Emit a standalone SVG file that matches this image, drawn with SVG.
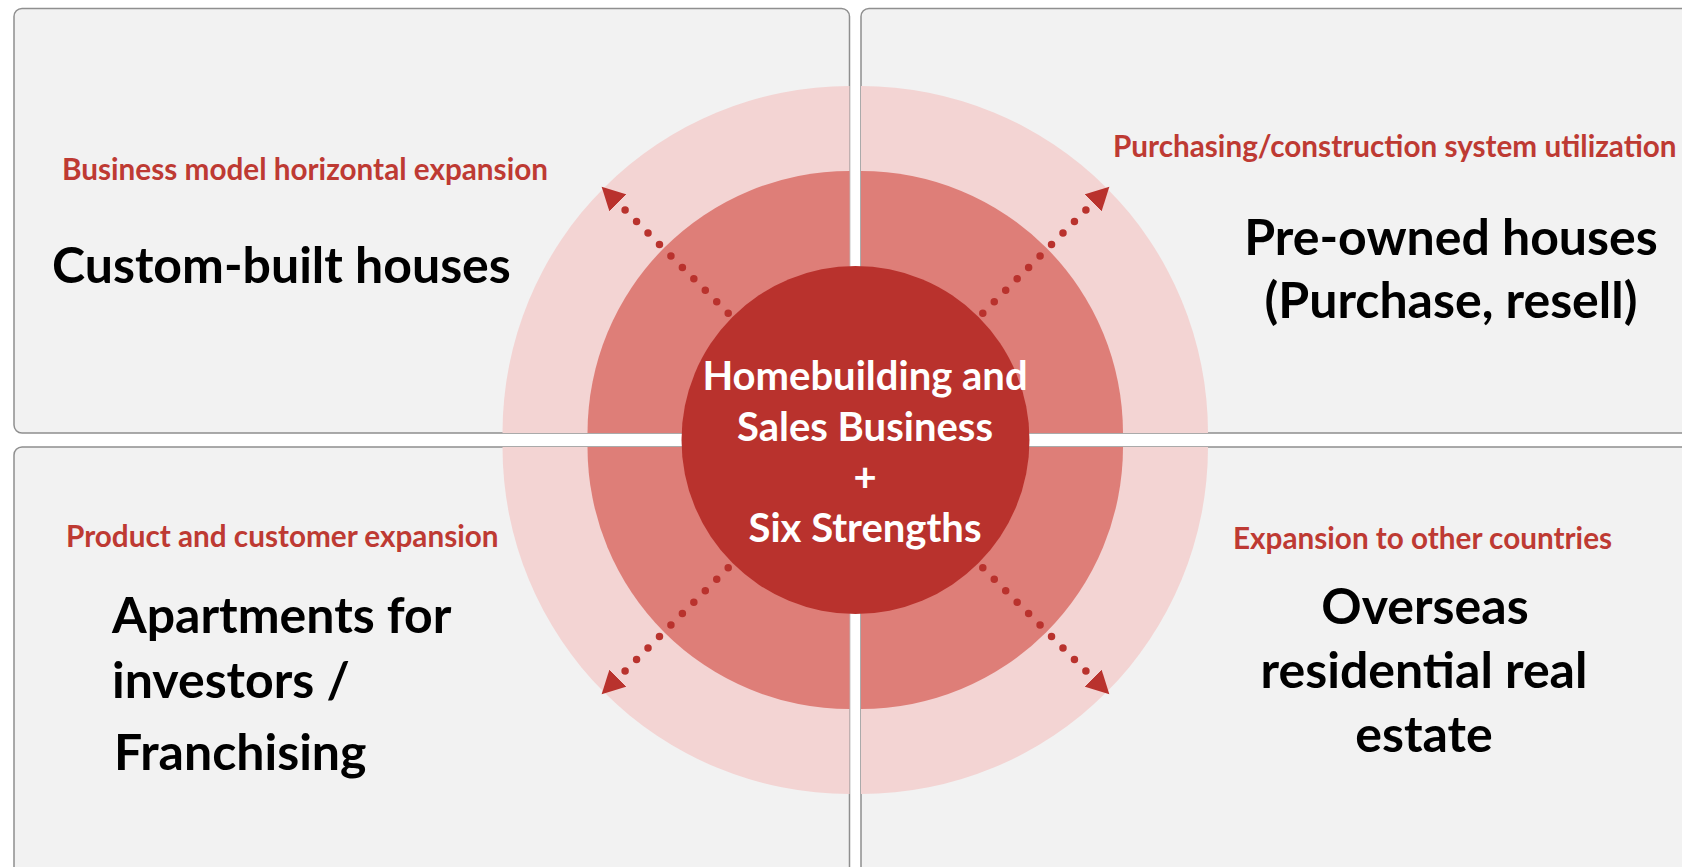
<svg xmlns="http://www.w3.org/2000/svg" width="1682" height="867" viewBox="0 0 1682 867">
<defs>
<style>
.box{fill:#f2f2f2;stroke:#8f8f8f;stroke-width:1.5}
.r1{fill:#f3d4d3}
.r2{fill:#de7e78}
.core{fill:#b9322d}
.lbl{font-family:Lato,"Liberation Sans",sans-serif;font-weight:700;font-size:29.7px;fill:#be3a33}
.big{font-family:Lato,"Liberation Sans",sans-serif;font-weight:700;font-size:50px;fill:#000}
.ctr{font-family:Lato,"Liberation Sans",sans-serif;font-weight:700;font-size:40px;fill:#fff;text-anchor:middle}
.dots{fill:none;stroke:#b9322d;stroke-width:7.5;stroke-linecap:round;stroke-dasharray:0 16.2}
</style>
<marker id="ah" markerUnits="userSpaceOnUse" markerWidth="24" markerHeight="24" viewBox="0 -12 24 24" refX="0" refY="0" orient="auto">
<path d="M0,-12 L23,0 L0,12 z" fill="#b9322d"/>
</marker>
</defs>
<rect width="1682" height="867" fill="#fff"/>
<g id="box-tl"><rect class="box" x="14" y="8.5" width="835.5" height="424.5" rx="8"/></g>
<g id="box-tr"><rect class="box" x="861" y="8.5" width="900" height="424.5" rx="8"/></g>
<g id="box-bl"><rect class="box" x="14" y="447" width="835.5" height="500" rx="8"/></g>
<g id="box-br"><rect class="box" x="861" y="447" width="900" height="500" rx="8"/></g>
<g id="rings">
<path class="r1" d="M849.5,433 L502.5,433 A347,347 0 0 1 849.5,86 Z"/>
<path class="r1" d="M861,433 L861,86 A347,347 0 0 1 1208,433 Z"/>
<path class="r1" d="M849.5,447 L849.5,794 A347,347 0 0 1 502.5,447 Z"/>
<path class="r1" d="M861,447 L1208,447 A347,347 0 0 1 861,794 Z"/>
<path class="r2" d="M849.5,433 L587.5,433 A262,262 0 0 1 849.5,171 Z"/>
<path class="r2" d="M861,433 L861,171 A262,262 0 0 1 1123,433 Z"/>
<path class="r2" d="M849.5,447 L849.5,709 A262,262 0 0 1 587.5,447 Z"/>
<path class="r2" d="M861,447 L1123,447 A262,262 0 0 1 861,709 Z"/>
</g>
<g id="core">
<circle class="core" cx="855.5" cy="440" r="174"/>
<text class="ctr" x="865" y="390">Homebuilding and</text>
<text class="ctr" x="865" y="441">Sales Business</text>
<text class="ctr" x="865" y="491">+</text>
<text class="ctr" x="865" y="542">Six Strengths</text>
</g>
<g id="connectors">
<path class="dots" d="M728.2,313.2 L617.9,202.9" marker-end="url(#ah)"/>
<path class="dots" d="M982.8,313.2 L1093.1,202.9" marker-end="url(#ah)"/>
<path class="dots" d="M728.2,567.8 L617.9,678.1" marker-end="url(#ah)"/>
<path class="dots" d="M982.8,567.8 L1093.1,678.1" marker-end="url(#ah)"/>
</g>
<g id="node-tl">
<text class="lbl" x="62" y="180">Business model horizontal expansion</text>
<text class="big" x="52" y="283">Custom-built houses</text>
</g>
<g id="node-tr">
<text class="lbl" x="1113" y="157">Purchasing/construction system utilization</text>
<text class="big" x="1451" y="255" text-anchor="middle">Pre-owned houses</text>
<text class="big" x="1451" y="318" text-anchor="middle">(Purchase, resell)</text>
</g>
<g id="node-bl">
<text class="lbl" x="66" y="547">Product and customer expansion</text>
<text class="big" x="112" y="633">Apartments for</text>
<text class="big" x="112" y="698">investors /</text>
<text class="big" x="114" y="770">Franchising</text>
</g>
<g id="node-br">
<text class="lbl" x="1233" y="549">Expansion to other countries</text>
<text class="big" x="1425" y="624" text-anchor="middle">Overseas</text>
<text class="big" x="1424" y="688" text-anchor="middle">residential real</text>
<text class="big" x="1424" y="752" text-anchor="middle">estate</text>
</g>
</svg>
